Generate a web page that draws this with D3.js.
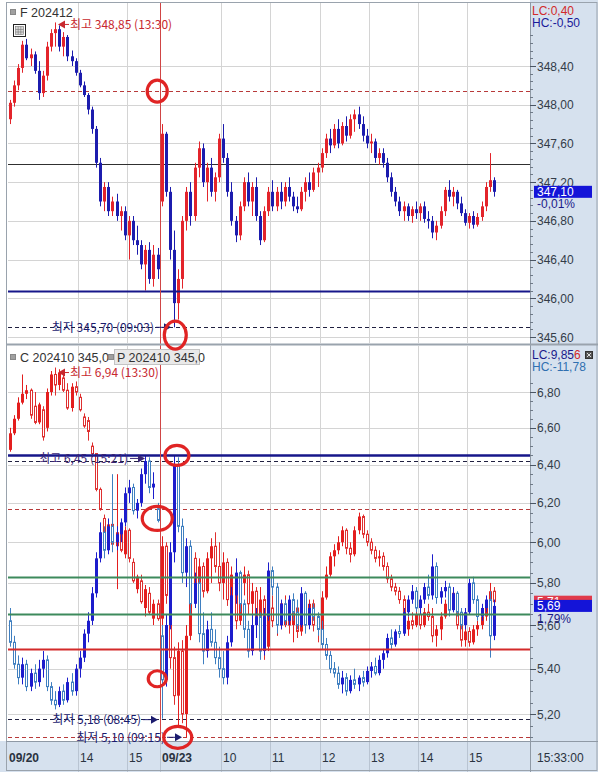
<!DOCTYPE html>
<html><head><meta charset="utf-8">
<script src="https://cdn.jsdelivr.net/npm/d3@7"></script>
<style>body{margin:0;background:#fff}svg{display:block}</style>
</head><body><svg id="c" width="598" height="772"></svg>
<script>
// 5-minute bars, [open, high, low, close]; 09/20 12:35 .. 15:35, 09/23 08:45 .. 15:30
const futuresBars = [
[347.85,348.05,347.80,348.02],[348.02,348.25,347.98,348.20],[348.20,348.42,348.15,348.38],[348.38,348.66,348.33,348.62],
[348.62,348.68,348.46,348.48],[348.48,348.58,348.40,348.52],[348.52,348.55,348.32,348.35],[348.35,348.45,348.05,348.12],
[348.12,348.35,348.08,348.30],[348.30,348.65,348.25,348.60],[348.60,348.78,348.55,348.74],[348.74,348.85,348.60,348.78],
[348.78,348.82,348.55,348.60],[348.60,348.75,348.50,348.70],[348.70,348.72,348.45,348.50],[348.50,348.56,348.40,348.45],
[348.45,348.48,348.30,348.33],[348.33,348.36,348.18,348.20],[348.20,348.24,348.08,348.10],[348.10,348.12,347.90,347.95],
[347.95,347.98,347.70,347.75],[347.75,347.78,347.35,347.40],[347.40,347.45,346.95,347.00],[347.00,347.20,346.90,347.15],
[347.15,347.20,346.85,346.90],[346.90,347.05,346.85,347.00],[347.00,347.08,346.80,346.85],[346.85,346.95,346.70,346.90],
[346.90,346.95,346.60,346.65],[346.65,346.85,346.40,346.80],[346.80,346.85,346.55,346.60],[346.60,346.75,346.45,346.55],
[346.55,346.60,346.30,346.35],[346.35,346.55,346.08,346.50],[346.50,346.58,346.15,346.20],[346.20,346.55,346.12,346.45],
[346.45,346.52,346.20,346.30],
[347.00,347.80,346.95,347.70],[347.70,347.72,347.05,347.10],[347.10,347.15,346.40,346.50],[346.50,346.70,345.70,345.95],
[345.95,346.30,345.78,346.20],[346.20,346.85,346.10,346.80],[346.80,347.15,346.70,347.10],[347.10,347.20,346.75,346.85],
[346.85,347.40,346.80,347.35],[347.35,347.62,347.25,347.55],[347.55,347.60,347.15,347.20],[347.20,347.40,347.00,347.35],
[347.35,347.45,347.05,347.10],[347.10,347.30,347.00,347.25],[347.25,347.70,347.20,347.65],[347.65,347.80,347.40,347.45],
[347.45,347.50,347.05,347.10],[347.10,347.20,346.75,346.80],[346.80,346.85,346.58,346.65],[346.65,347.00,346.60,346.95],
[346.95,347.25,346.90,347.20],[347.20,347.30,346.95,347.00],[347.00,347.20,346.85,347.15],[347.15,347.25,346.80,346.85],
[346.85,346.90,346.55,346.60],[346.60,346.95,346.58,346.90],[346.90,347.15,346.85,347.10],[347.10,347.22,346.90,346.95],
[346.95,347.15,346.90,347.10],[347.10,347.20,346.92,347.00],[347.00,347.20,346.95,347.15],[347.15,347.25,347.00,347.05],
[347.05,347.10,346.90,346.95],[346.95,347.05,346.88,346.92],[346.92,347.15,346.90,347.10],[347.10,347.25,347.00,347.20],
[347.20,347.30,347.05,347.12],[347.12,347.35,347.10,347.30],[347.30,347.40,347.15,347.35],[347.35,347.55,347.30,347.50],
[347.50,347.70,347.45,347.65],[347.65,347.75,347.50,347.58],[347.58,347.80,347.55,347.75],[347.75,347.85,347.55,347.60],
[347.60,347.82,347.58,347.78],[347.78,347.88,347.62,347.68],[347.68,347.90,347.65,347.85],[347.85,347.95,347.72,347.90],
[347.90,347.98,347.75,347.80],[347.80,347.88,347.62,347.68],[347.68,347.75,347.55,347.60],[347.60,347.70,347.50,347.62],
[347.62,347.65,347.40,347.45],[347.45,347.55,347.38,347.50],[347.50,347.55,347.35,347.40],[347.40,347.45,347.20,347.25],
[347.25,347.30,347.05,347.10],[347.10,347.15,346.95,347.00],[347.00,347.05,346.85,346.90],[346.90,347.00,346.80,346.95],
[346.95,346.98,346.80,346.85],[346.85,346.95,346.78,346.92],[346.92,347.00,346.82,346.88],[346.88,346.98,346.80,346.95],
[346.95,347.00,346.78,346.82],[346.82,346.90,346.72,346.80],[346.80,346.85,346.62,346.68],[346.68,346.80,346.60,346.75],
[346.75,346.95,346.72,346.90],[346.90,347.15,346.85,347.12],[347.12,347.22,347.00,347.05],[347.05,347.15,346.95,347.10],
[347.10,347.12,346.92,346.98],[346.98,347.05,346.85,346.88],[346.88,346.92,346.75,346.78],[346.78,346.88,346.72,346.85],
[346.85,346.90,346.72,346.76],[346.76,346.88,346.74,346.84],[346.84,347.00,346.80,346.95],[346.95,347.20,346.90,347.15],
[347.15,347.50,347.10,347.22],[347.22,347.25,347.05,347.10]
];
const callBars = [
[6.48,6.60,6.47,6.57],[6.57,6.67,6.56,6.65],[6.65,6.77,6.64,6.74],[6.74,6.90,6.73,6.79],[6.79,6.84,6.76,6.81],
[6.81,6.82,6.65,6.67],[6.72,6.80,6.62,6.63],[6.63,6.74,6.62,6.73],[6.70,6.72,6.53,6.55],[6.60,6.82,6.58,6.80],
[6.80,6.92,6.78,6.90],[6.90,6.94,6.78,6.84],[6.84,6.93,6.81,6.91],[6.88,6.90,6.80,6.81],[6.81,6.85,6.70,6.71],
[6.71,6.85,6.69,6.83],[6.83,6.86,6.78,6.80],[6.77,6.79,6.69,6.70],[6.66,6.68,6.60,6.61],[6.64,6.66,6.53,6.58],
[6.50,6.52,6.44,6.46],[6.46,6.46,6.26,6.27],[6.27,6.28,6.16,6.17],[6.12,6.14,6.00,6.01],[5.97,6.10,5.95,6.09],
[6.09,6.12,5.98,5.99],[5.98,6.35,5.77,6.05],[6.05,6.08,5.95,5.96],[5.94,6.08,5.92,6.06],[6.06,6.07,5.90,5.92],
[5.90,5.92,5.80,5.81],[5.77,5.84,5.75,5.83],[5.81,5.84,5.70,5.71],[5.68,5.79,5.64,5.77],[5.75,5.78,5.65,5.66],
[5.63,5.72,5.60,5.70],[5.70,5.72,5.62,5.63],
[5.63,6.03,5.60,5.98],[5.98,6.00,5.70,5.74],[5.74,5.76,5.40,5.45],[5.45,5.50,5.24,5.28],[5.28,5.52,5.14,5.48],
[5.48,5.53,5.16,5.20],[5.20,5.60,5.10,5.55],[5.55,5.98,5.53,5.92],[5.92,5.95,5.74,5.78],[5.78,5.92,5.72,5.88],
[5.88,5.90,5.73,5.76],[5.76,5.95,5.75,5.92],[5.92,6.02,5.80,5.98],[5.98,6.05,5.85,5.88],[5.88,6.00,5.76,5.80],
[5.80,5.95,5.72,5.90],[5.90,5.92,5.69,5.72],[5.72,5.88,5.63,5.84],[5.84,5.86,5.58,5.62],[5.62,5.85,5.60,5.80],
[5.80,5.88,5.74,5.84],[5.84,5.86,5.65,5.70],[5.70,5.80,5.63,5.76],[5.76,5.78,5.60,5.64],[5.64,5.78,5.54,5.72],
[5.72,5.74,5.44,5.50],[5.50,5.72,5.48,5.68],[5.68,5.74,5.59,5.62],[5.62,5.72,5.55,5.70],[5.70,5.71,5.58,5.60],
[5.60,5.74,5.59,5.70],[5.70,5.72,5.56,5.60],[5.60,5.72,5.52,5.68],[5.68,5.70,5.54,5.57],[5.57,5.70,5.55,5.66],
[5.66,5.69,5.58,5.61],[5.61,5.72,5.60,5.70],[5.70,5.72,5.57,5.60],[5.60,5.62,5.52,5.58],[5.58,5.76,5.56,5.73],
[5.73,5.88,5.72,5.84],[5.84,5.95,5.83,5.93],[5.93,5.99,5.88,5.96],[5.96,6.03,5.94,6.00],[6.00,6.08,5.98,6.06],
[6.06,6.07,5.94,5.97],[5.97,6.00,5.90,5.94],[5.94,6.08,5.93,6.06],[6.06,6.15,6.04,6.13],[6.13,6.14,6.02,6.04],
[6.04,6.06,5.98,6.00],[6.00,6.02,5.94,5.96],[5.96,5.98,5.90,5.92],[5.92,5.96,5.88,5.93],[5.93,5.95,5.86,5.88],
[5.88,5.90,5.80,5.82],[5.82,5.84,5.76,5.78],[5.78,5.80,5.74,5.76],[5.76,5.78,5.70,5.72],[5.72,5.74,5.55,5.58],
[5.58,5.64,5.55,5.62],[5.62,5.66,5.58,5.60],[5.60,5.67,5.59,5.65],[5.65,5.67,5.58,5.60],[5.60,5.68,5.59,5.66],
[5.66,5.70,5.62,5.64],[5.64,5.68,5.52,5.55],[5.55,5.60,5.50,5.58],[5.58,5.66,5.53,5.64],[5.64,5.72,5.63,5.70],
[5.70,5.78,5.68,5.75],[5.75,5.76,5.66,5.68],[5.68,5.70,5.58,5.60],[5.60,5.62,5.50,5.53],[5.53,5.60,5.50,5.57],
[5.57,5.59,5.50,5.52],[5.52,5.60,5.51,5.58],[5.58,5.62,5.55,5.60],[5.60,5.67,5.58,5.64],[5.64,5.72,5.62,5.70],
[5.70,5.80,5.68,5.76],[5.76,5.78,5.69,5.71]
];
const putBars = [
[5.62,5.68,5.50,5.52],[5.52,5.55,5.40,5.42],[5.42,5.46,5.33,5.36],[5.36,5.45,5.33,5.42],[5.42,5.44,5.30,5.32],
[5.32,5.40,5.30,5.38],[5.38,5.42,5.31,5.34],[5.34,5.44,5.32,5.40],[5.40,5.48,5.36,5.44],[5.44,5.46,5.30,5.32],
[5.32,5.34,5.24,5.26],[5.26,5.30,5.22,5.24],[5.24,5.32,5.23,5.30],[5.30,5.33,5.24,5.26],[5.26,5.36,5.25,5.34],
[5.34,5.38,5.28,5.30],[5.30,5.42,5.28,5.40],[5.40,5.48,5.36,5.45],[5.45,5.58,5.43,5.56],[5.56,5.66,5.52,5.62],
[5.62,5.78,5.60,5.75],[5.75,5.95,5.73,5.92],[5.92,6.10,5.90,6.05],[6.05,6.08,5.92,5.96],[5.96,6.12,5.94,6.08],
[6.08,6.35,5.95,6.00],[6.00,6.08,5.96,6.04],[6.04,6.12,6.00,6.10],[6.10,6.28,6.08,6.25],[6.25,6.32,6.20,6.28],
[6.28,6.30,6.14,6.16],[6.16,6.22,6.12,6.20],[6.20,6.38,6.18,6.35],[6.35,6.45,6.30,6.42],[6.42,6.44,6.25,6.28],
[6.28,6.36,6.22,6.30],[6.17,6.20,6.10,6.11],
[5.55,5.60,5.18,5.35],[5.35,5.65,5.32,5.60],[5.60,6.00,5.58,5.95],[5.95,6.45,5.90,6.40],[6.40,6.44,6.05,6.08],
[6.08,6.12,5.80,5.85],[5.85,6.02,5.78,5.98],[5.98,6.01,5.65,5.70],[5.70,5.85,5.68,5.80],[5.80,5.82,5.52,5.56],
[5.56,5.66,5.42,5.48],[5.48,5.62,5.45,5.58],[5.58,5.66,5.50,5.52],[5.52,5.58,5.42,5.45],[5.45,5.50,5.36,5.40],
[5.40,5.48,5.33,5.36],[5.36,5.55,5.33,5.52],[5.52,5.78,5.50,5.74],[5.74,5.92,5.70,5.85],[5.85,5.86,5.66,5.70],
[5.70,5.72,5.54,5.58],[5.58,5.62,5.45,5.48],[5.48,5.65,5.46,5.60],[5.60,5.68,5.54,5.64],[5.64,5.66,5.44,5.48],
[5.48,5.68,5.46,5.64],[5.64,5.90,5.62,5.86],[5.86,5.88,5.74,5.78],[5.78,5.80,5.56,5.60],[5.60,5.72,5.58,5.70],
[5.70,5.72,5.60,5.62],[5.62,5.74,5.60,5.72],[5.72,5.75,5.62,5.66],[5.66,5.72,5.58,5.60],[5.60,5.78,5.59,5.75],
[5.75,5.76,5.56,5.60],[5.60,5.70,5.58,5.68],[5.68,5.70,5.62,5.64],[5.64,5.66,5.55,5.58],[5.58,5.62,5.49,5.51],
[5.51,5.54,5.44,5.46],[5.46,5.48,5.38,5.40],[5.40,5.43,5.36,5.38],[5.38,5.41,5.31,5.33],[5.33,5.39,5.29,5.36],
[5.36,5.38,5.28,5.30],[5.30,5.37,5.29,5.35],[5.35,5.40,5.31,5.33],[5.33,5.37,5.30,5.36],[5.36,5.39,5.32,5.34],
[5.34,5.41,5.33,5.39],[5.39,5.43,5.36,5.41],[5.41,5.45,5.37,5.38],[5.38,5.46,5.37,5.44],[5.44,5.49,5.40,5.47],
[5.47,5.56,5.45,5.54],[5.54,5.58,5.49,5.51],[5.51,5.58,5.50,5.57],[5.57,5.60,5.54,5.56],[5.56,5.68,5.55,5.66],
[5.66,5.74,5.64,5.72],[5.72,5.79,5.70,5.76],[5.76,5.78,5.66,5.68],[5.68,5.74,5.65,5.72],[5.72,5.80,5.70,5.78],
[5.78,5.84,5.72,5.74],[5.74,5.94,5.72,5.88],[5.88,5.90,5.70,5.73],[5.73,5.78,5.70,5.76],[5.76,5.81,5.73,5.78],
[5.78,5.80,5.64,5.67],[5.67,5.78,5.66,5.75],[5.75,5.76,5.64,5.66],[5.66,5.68,5.58,5.60],[5.60,5.68,5.58,5.66],
[5.66,5.82,5.65,5.80],[5.80,5.83,5.70,5.72],[5.72,5.74,5.62,5.64],[5.64,5.70,5.62,5.68],[5.68,5.74,5.66,5.72],
[5.72,5.76,5.45,5.55],[5.55,5.72,5.53,5.69]
];

// axis ticks and time labels (bar index of each label)
const futTicks = [345.6, 346.0, 346.4, 346.8, 347.2, 347.6, 348.0, 348.4];
const optTicks = [5.2, 5.4, 5.6, 5.8, 6.0, 6.2, 6.4, 6.6, 6.8];
const timeLabels = ["09/20", "14", "15", "09/23", "10", "11", "12", "13", "14", "15"];
const timeIndex  = [0, 17, 29, 37, 52, 64, 76, 88, 100, 112];

// horizontal reference levels
const futLevels = [348.14, 347.39, 346.08, 345.70];
const optLevels = [6.45, 6.42, 6.17, 5.83, 5.65, 5.49, 5.18, 5.10];

// last values shown on the price axis
const futLast = {price: 347.10, change: "-0,01%", lc: "0,40", hc: "-0,50"};
const optLast = {call: 5.71, put: 5.69, change: "1,79%", lc: "9,856", hc: "-11,78"};

const svg = d3.select("#c");
const fmt = d => d3.format(".2f")(d).replace(".", ",");
const NUM = "'Liberation Sans', Arial, sans-serif";
const KR = "'Noto Sans CJK KR', sans-serif";

const L = 8, R = 530, W = 598;
const panelTop = {y0: 3, y1: 343}, panelBot = {y0: 346, y1: 741};
const axisBg = "#d6e1ee", gridCol = "#d4d4d4";

const x = d3.scaleLinear().domain([0, (R - L) / 4.1]).range([L, R]);
const yF = d3.scaleLinear().domain([345.6, 348.4]).range([337, 66]);
const yO = d3.scaleLog().domain([5.2, 6.8]).range([714, 392]);

// backgrounds
svg.append("rect").attr("x", 0).attr("y", 0).attr("width", W).attr("height", 772).attr("fill", "#fff");
svg.append("rect").attr("x", R).attr("y", 0).attr("width", W - R).attr("height", 772).attr("fill", axisBg);
svg.append("rect").attr("x", 0).attr("y", panelBot.y1).attr("width", W).attr("height", 772 - panelBot.y1).attr("fill", axisBg);

const defs = svg.append("defs");
[["clipTop", panelTop], ["clipBot", panelBot]].forEach(([id, p]) => {
  defs.append("clipPath").attr("id", id).append("rect")
    .attr("x", L).attr("y", p.y0).attr("width", R - L).attr("height", p.y1 - p.y0);
});

function grid(g, p, ticks, y) {
  g.selectAll(".h").data(ticks).join("line")
    .attr("x1", L).attr("x2", R).attr("y1", d => Math.round(y(d)) + 0.5).attr("y2", d => Math.round(y(d)) + 0.5)
    .attr("stroke", gridCol);
  g.selectAll(".v").data(timeIndex.filter((d, i) => i > 0 && i !== 3)).join("line")
    .attr("x1", d => Math.round(x(d)) + 0.5).attr("x2", d => Math.round(x(d)) + 0.5)
    .attr("y1", p.y0).attr("y2", p.y1).attr("stroke", gridCol);
}

const gTop = svg.append("g");
const gBot = svg.append("g");
grid(gTop.append("g"), panelTop, futTicks, yF);
grid(gBot.append("g"), panelBot, optTicks, yO);

// vertical grid into the time strip
svg.append("g").selectAll("line").data(timeIndex.slice(1)).join("line")
  .attr("x1", d => Math.round(x(d)) + 0.5).attr("x2", d => Math.round(x(d)) + 0.5)
  .attr("y1", panelBot.y1).attr("y2", 772).attr("stroke", "#b9c4d2");

function level(g, v, y, stroke, width, dash) {
  g.append("line").attr("x1", L).attr("x2", R)
    .attr("y1", Math.round(y(v)) + 0.5).attr("y2", Math.round(y(v)) + 0.5)
    .attr("stroke", stroke).attr("stroke-width", width).attr("stroke-dasharray", dash || null);
}

function candles(g, bars, y, st) {
  const cg = g.append("g");
  bars.forEach((d, i) => {
    const [o, h, l, c] = d;
    const cx = Math.round(x(i)) + 2.5;
    const up = c >= o;
    const col = up ? st.up : st.down;
    const hollow = up ? st.upHollow : st.downHollow;
    cg.append("line").attr("x1", cx).attr("x2", cx).attr("y1", y(h)).attr("y2", y(l))
      .attr("stroke", col).attr("stroke-width", 1);
    const yt = y(Math.max(o, c)), yb = y(Math.min(o, c));
    if (hollow) {
      cg.append("rect").attr("x", cx - 1).attr("y", yt).attr("width", 2).attr("height", Math.max(yb - yt, 1))
        .attr("fill", "#fff").attr("stroke", col).attr("stroke-width", 1);
    } else {
      cg.append("rect").attr("x", cx - 1.5).attr("y", yt).attr("width", 3).attr("height", Math.max(yb - yt, 1.2))
        .attr("fill", col);
    }
  });
}

// top panel: futures
const pTop = gTop.append("g").attr("clip-path", "url(#clipTop)");
level(pTop, futLevels[0], yF, "#b83a3a", 1, "4,3");
level(pTop, futLevels[1], yF, "#303030", 1);
level(pTop, futLevels[3], yF, "#202040", 1, "4,3");
candles(pTop, futuresBars, yF, {up: "#e3242b", down: "#1c1cae", upHollow: false, downHollow: false});
level(pTop, futLevels[2], yF, "#16168a", 2);

// bottom panel: call (red) and put (blue)
const pBot = gBot.append("g").attr("clip-path", "url(#clipBot)");
level(pBot, optLevels[1], yO, "#202040", 1, "4,3");
level(pBot, optLevels[2], yO, "#b83a3a", 1, "4,3");
level(pBot, optLevels[6], yO, "#202040", 1, "4,3");
level(pBot, optLevels[7], yO, "#b83a3a", 1, "4,3");
candles(pBot, callBars, yO, {up: "#e31e1e", down: "#df2f2f", upHollow: false, downHollow: true});
candles(pBot, putBars, yO, {up: "#1d1dcc", down: "#3f7fc0", upHollow: false, downHollow: true});
level(pBot, optLevels[0], yO, "#16168a", 2.5);
level(pBot, optLevels[3], yO, "#3d8a5c", 2);
level(pBot, optLevels[4], yO, "#3d8a5c", 2);
level(pBot, optLevels[5], yO, "#d32a2a", 2);

// session divider 09/23
svg.append("line").attr("x1", Math.round(x(timeIndex[3])) + 0.5).attr("x2", Math.round(x(timeIndex[3])) + 0.5)
  .attr("y1", panelTop.y0).attr("y2", panelBot.y1).attr("stroke", "#d04545").attr("stroke-width", 1);

// frames
svg.append("rect").attr("x", 6.5).attr("y", 2.5).attr("width", W - 7.5).attr("height", 768).attr("fill", "none").attr("stroke", "#9aa3ad");
svg.append("line").attr("x1", R + 0.5).attr("x2", R + 0.5).attr("y1", 2).attr("y2", 772).attr("stroke", "#8f99a5");
svg.append("line").attr("x1", 6).attr("x2", W).attr("y1", panelTop.y1 + 1.5).attr("y2", panelTop.y1 + 1.5).attr("stroke", "#9aa3ad").attr("stroke-width", 2);
svg.append("line").attr("x1", 6).attr("x2", W).attr("y1", panelBot.y1 + 0.5).attr("y2", panelBot.y1 + 0.5).attr("stroke", "#8f99a5");

// right axes
function rightAxis(p, ticks, y, minorStep, dom) {
  const g = svg.append("g");
  const minors = d3.range(dom[0], dom[1] + 1e-9, minorStep).filter(v => y(v) > p.y0 + 30 && y(v) < p.y1 - 2);
  g.selectAll(".mi").data(minors).join("line")
    .attr("x1", R).attr("x2", R + 3).attr("y1", d => Math.round(y(d)) + 0.5).attr("y2", d => Math.round(y(d)) + 0.5)
    .attr("stroke", "#6f7a88");
  g.selectAll(".ma").data(ticks).join("line")
    .attr("x1", R).attr("x2", R + 6).attr("y1", d => Math.round(y(d)) + 0.5).attr("y2", d => Math.round(y(d)) + 0.5)
    .attr("stroke", "#4a5563");
  g.selectAll("text").data(ticks).join("text")
    .attr("x", R + 7).attr("y", d => y(d) + 4.5).text(fmt)
    .attr("font-family", NUM).attr("font-size", 12).attr("fill", "#333c48");
}
rightAxis(panelTop, futTicks, yF, 0.08, [345.52, 349.0]);
rightAxis(panelBot, optTicks, yO, 0.05, [5.1, 7.0]);

// top-right info
svg.append("text").attr("x", 532).attr("y", 15).text("LC:" + futLast.lc).attr("font-family", NUM).attr("font-size", 12).attr("fill", "#d22a2a");
svg.append("text").attr("x", 532).attr("y", 27).text("HC:" + futLast.hc).attr("font-family", NUM).attr("font-size", 12).attr("fill", "#1a1a9a");
const lcT = svg.append("text").attr("x", 532).attr("y", 359).attr("font-family", NUM).attr("font-size", 12);
lcT.append("tspan").attr("fill", "#1a1a8a").text("LC:" + optLast.lc.slice(0, -1));
lcT.append("tspan").attr("fill", "#d22a2a").text(optLast.lc.slice(-1));
svg.append("text").attr("x", 532).attr("y", 371).text("HC:" + optLast.hc).attr("font-family", NUM).attr("font-size", 12).attr("fill", "#2f6fb0");
svg.append("rect").attr("x", 585.5).attr("y", 351.5).attr("width", 7).attr("height", 7).attr("fill", "#555").attr("stroke", "#333");
svg.append("path").attr("d", "M587,353L591,357M591,353L587,357").attr("stroke", "#ddd");

// last price boxes
function lastBox(v, y, fill, txtFill) {
  const cy = y(v);
  svg.append("rect").attr("x", 534).attr("y", cy - 6).attr("width", 58).attr("height", 12).attr("fill", fill);
  svg.append("text").attr("x", 537).attr("y", cy + 4.5).text(fmt(v)).attr("font-family", NUM).attr("font-size", 12).attr("fill", txtFill);
  return cy;
}
const fy = lastBox(futLast.price, yF, "#1414d8", "#fff");
svg.append("text").attr("x", 537).attr("y", fy + 16).text(futLast.change).attr("font-family", NUM).attr("font-size", 12).attr("fill", "#1a1a8a");
lastBox(optLast.call, yO, "#e03a4a", "#fff");
const py = lastBox(optLast.put, yO, "#1414d8", "#fff");
svg.append("text").attr("x", 537).attr("y", py + 17).text(optLast.change).attr("font-family", NUM).attr("font-size", 12).attr("fill", "#1a1a8a");

// time axis labels
svg.append("g").selectAll("text").data(timeLabels).join("text")
  .attr("x", (d, i) => i === 0 ? 9 : Math.round(x(timeIndex[i])) + 2)
  .attr("y", 762).text(d => d)
  .attr("font-family", NUM).attr("font-size", 12)
  .attr("font-weight", d => d.includes("/") ? "bold" : "normal")
  .attr("fill", "#2a3340");
svg.append("text").attr("x", 537).attr("y", 762).text("15:33:00").attr("font-family", NUM).attr("font-size", 12).attr("fill", "#2a3340");

// series titles
svg.append("rect").attr("x", 10.5).attr("y", 9.5).attr("width", 5).attr("height", 5).attr("fill", "#a0a0a0").attr("stroke", "#888");
svg.append("text").attr("x", 20).attr("y", 17).text("F 202412").attr("font-family", NUM).attr("font-size", 12.5).attr("fill", "#333");
const ic = svg.append("g").attr("transform", "translate(13.5,24.5)");
ic.append("rect").attr("width", 12).attr("height", 12).attr("fill", "#fff").attr("stroke", "#222");
ic.append("rect").attr("x", 2).attr("y", 2).attr("width", 8).attr("height", 8).attr("fill", "#d8d8d8").attr("stroke", "#777").attr("stroke-width", 0.6);
ic.append("path").attr("d", "M2,5H10M2,7.5H10M4.7,2V10M7.3,2V10").attr("stroke", "#777").attr("stroke-width", 0.6);

svg.append("rect").attr("x", 10.5).attr("y", 354.5).attr("width", 5).attr("height", 5).attr("fill", "#a0a0a0").attr("stroke", "#888");
svg.append("text").attr("x", 20).attr("y", 362).text("C 202410 345,0").attr("font-family", NUM).attr("font-size", 12.5).attr("fill", "#333");
svg.append("rect").attr("x", 108.5).attr("y", 354.5).attr("width", 5).attr("height", 5).attr("fill", "#a0a0a0").attr("stroke", "#888");
svg.append("rect").attr("x", 114.5).attr("y", 349.5).attr("width", 85).attr("height", 15).attr("fill", "#e9e9e9").attr("stroke", "#c4c4c4");
svg.append("text").attr("x", 117).attr("y", 362).text("P 202410 345,0").attr("font-family", NUM).attr("font-size", 12.5).attr("fill", "#333");

// high / low markers
function highMark(i, v, y, label, color, dy) {
  const tx = Math.round(x(i)) + 5, ty = y(v) + dy;
  svg.append("path").attr("d", `M${tx},${ty}L${tx + 7},${ty - 4}L${tx + 7},${ty + 4}Z`).attr("fill", color);
  svg.append("line").attr("x1", tx + 7).attr("x2", tx + 11).attr("y1", ty).attr("y2", ty).attr("stroke", color);
  svg.append("text").attr("x", tx + 12).attr("y", ty + 4.5).text(label)
    .attr("font-family", KR).attr("font-size", 12).attr("fill", color);
}
function lowMark(tipX, v, y, label, color, dy) {
  const ty = y(v) + dy;
  svg.append("path").attr("d", `M${tipX},${ty}L${tipX - 7},${ty - 4}L${tipX - 7},${ty + 4}Z`).attr("fill", color);
  svg.append("line").attr("x1", tipX - 15).attr("x2", tipX - 7).attr("y1", ty).attr("y2", ty).attr("stroke", color);
  svg.append("text").attr("x", tipX - 17).attr("y", ty + 4.5).attr("text-anchor", "end").text(label)
    .attr("font-family", KR).attr("font-size", 12).attr("fill", color);
}
highMark(11, futuresBars[11][1], yF, "최고 " + fmt(futuresBars[11][1]) + " (13:30)", "#c8282e", 2);
highMark(11, callBars[11][1], yO, "최고 " + fmt(callBars[11][1]) + " (13:30)", "#c8282e", 5);
lowMark(Math.round(x(33)) + 2, putBars[33][1], yO, "최고 " + fmt(putBars[33][1]) + " (15:21)", "#3a2676", 3);
lowMark(Math.round(x(40)) - 1, futuresBars[40][2], yF, "최저 " + fmt(futuresBars[40][2]) + " (09:03)", "#1b1b6e", 0);
lowMark(Math.round(x(37)) - 2, putBars[37][2], yO, "최저 " + fmt(putBars[37][2]) + " (08:45)", "#1b1b6e", 1);
lowMark(Math.round(x(43)) - 2, callBars[43][2], yO, "최저 " + fmt(callBars[43][2]) + " (09:15)", "#1b1b6e", 0);

// red ring highlights
const rings = [
  {i: 36.4, v: 348.14, y: yF, rx: 10, ry: 11},
  {i: 40.8, v: 345.62, y: yF, rx: 11, ry: 14},
  {i: 41.2, v: 6.45, y: yO, rx: 12, ry: 10},
  {i: 36.4, v: 6.12, y: yO, rx: 15, ry: 12},
  {i: 36.4, v: 5.355, y: yO, rx: 9, ry: 8},
  {i: 41.4, v: 5.10, y: yO, rx: 14, ry: 11}
];
svg.append("g").selectAll("ellipse").data(rings).join("ellipse")
  .attr("cx", d => x(d.i)).attr("cy", d => d.y(d.v)).attr("rx", d => d.rx).attr("ry", d => d.ry)
  .attr("fill", "none").attr("stroke", "#e02424").attr("stroke-width", 3.2);
</script></body></html>
